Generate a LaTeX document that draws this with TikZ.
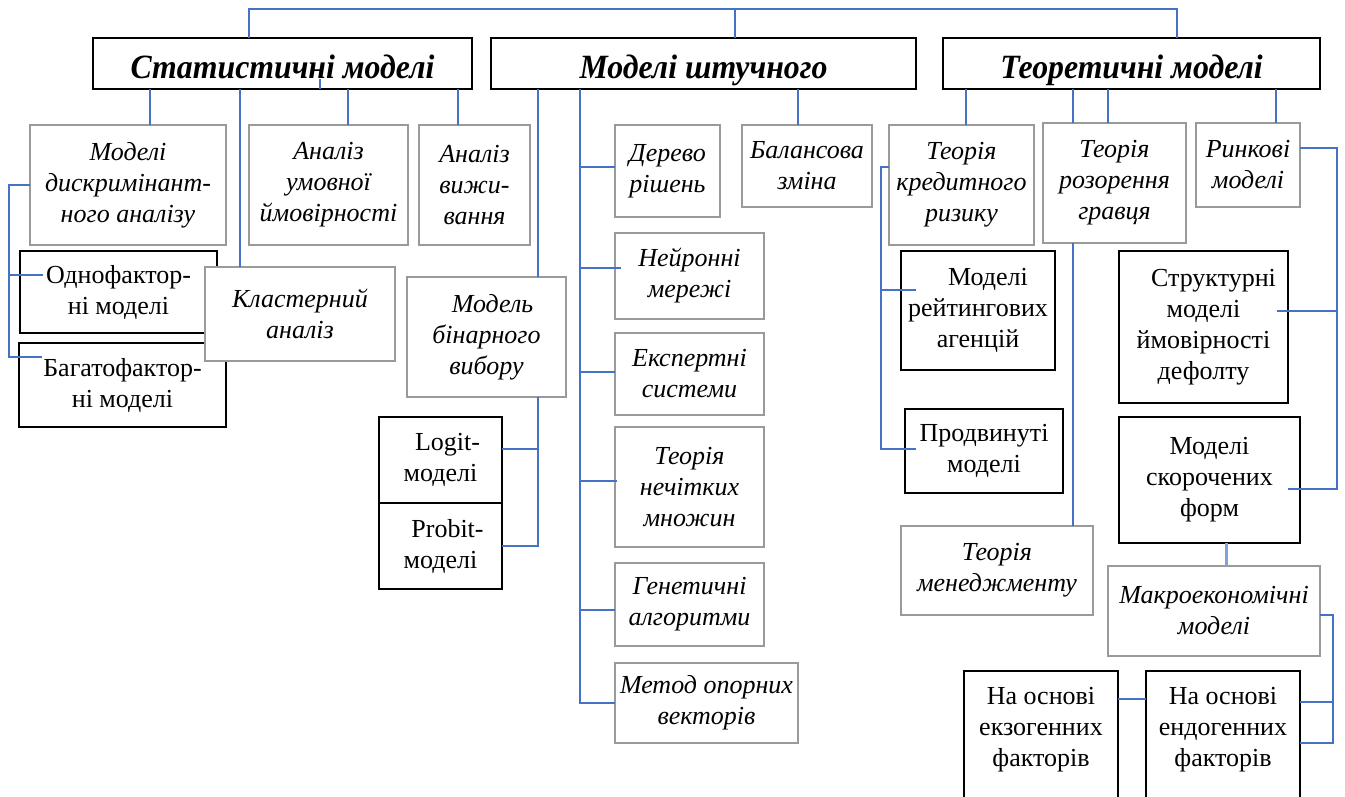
\documentclass[tikz,border=0pt]{standalone}
\usepackage{fontspec}
\usepackage{graphicx}
\setmainfont{Liberation Serif}
\definecolor{conblue}{HTML}{4472C4}
\definecolor{lightblue}{HTML}{7FA3D6}
\definecolor{boxgray}{HTML}{9A9A9A}
\newcommand{\bodyfont}{\fontsize{26}{31}\selectfont}
\newcommand{\hdfont}{\fontsize{34}{36}\selectfont\bfseries\itshape}
\begin{document}
\begin{tikzpicture}[x=1pt,y=-1pt,
  base/.style={rectangle,inner sep=0pt,outer sep=0pt,fill=white,align=center,font=\bodyfont},
  gbox/.style={base,draw=boxgray,line width=1.6pt,font=\bodyfont\itshape},
  bbox/.style={base,draw=black,line width=1.6pt},
  hbox/.style={base,draw=black,line width=1.8pt,minimum height=51pt},
  conn/.style={draw=conblue,line width=2.2pt},
  hdtext/.style={anchor=base,inner sep=0pt,font=\hdfont}]
\useasboundingbox (0,0) rectangle (1345,796);
\fill[white] (0,0) rectangle (1345,796);

% headers (text clipped by box)
\node[hbox,minimum width=379pt,path picture={\node[hdtext] at ([yshift=-15pt]path picture bounding box.center) {\scalebox{0.935}[1]{Статистичні моделі}};}] (hstat) at (282.5,63.5) {};
\node[hbox,minimum width=425pt,path picture={\node[hdtext] at ([yshift=-15pt]path picture bounding box.center) {\scalebox{0.935}[1]{Моделі штучного}};}] (hai) at (703.5,63.5) {};
\node[hbox,minimum width=377pt,path picture={\node[hdtext] at ([yshift=-15pt]path picture bounding box.center) {\scalebox{0.935}[1]{Теоретичні моделі}};}] (hth) at (1131.5,63.5) {};

% statistical models
\node[gbox,minimum width=196pt,minimum height=120pt] (disc) at (128,185) {Моделі\\дискримінант-\\ного аналізу};
\node[gbox,minimum width=159pt,minimum height=120pt] (cond) at (328.5,185) {Аналіз\\умовної\\ймовірності};
\node[gbox,minimum width=111pt,minimum height=120pt] (surv) at (474.5,185) {Аналіз\\вижи-\\вання};
\node[bbox,minimum width=197pt,minimum height=82pt] (one) at (118.5,292) {Однофактор-\\ні моделі};
\node[bbox,minimum width=207pt,minimum height=84pt] (multi) at (122.5,385) {Багатофактор-\\ні моделі};
\node[gbox,minimum width=190pt,minimum height=94pt] (clus) at (300,314) {Кластерний\\аналіз};

% artificial intelligence models
\node[gbox,minimum width=159pt,minimum height=120pt] (bin) at (486.5,337) {\hspace*{12pt}Модель\\бінарного\\вибору};
\node[bbox,minimum width=123pt,minimum height=86pt] (logit) at (440.5,460) {\hspace*{14pt}Logit-\\моделі};
\node[bbox,minimum width=123pt,minimum height=86pt] (probit) at (440.5,546) {\hspace*{14pt}Probit-\\моделі};
\node[gbox,minimum width=105pt,minimum height=92pt] (tree) at (667.5,171) {Дерево\\рішень};
\node[gbox,minimum width=130pt,minimum height=82pt] (bal) at (807,166) {Балансова\\зміна};
\node[gbox,minimum width=149pt,minimum height=86pt] (neur) at (689.5,276) {Нейронні\\мережі};
\node[gbox,minimum width=149pt,minimum height=82pt] (exp) at (689.5,374) {Експертні\\системи};
\node[gbox,minimum width=149pt,minimum height=120pt] (fuzzy) at (689.5,487) {Теорія\\нечітких\\множин};
\node[gbox,minimum width=149pt,minimum height=83pt] (gen) at (689.5,604.5) {Генетичні\\алгоритми};
\node[gbox,minimum width=183pt,minimum height=80pt] (svm) at (706.5,703) {Метод опорних\\векторів};

% theoretical models
\node[gbox,minimum width=145pt,minimum height=120pt] (cred) at (961.5,185) {Теорія\\кредитного\\ризику};
\node[gbox,minimum width=143pt,minimum height=120pt] (ruin) at (1114.5,183) {Теорія\\розорення\\гравця};
\node[gbox,minimum width=104pt,minimum height=84pt] (mkt) at (1248,165) {Ринкові\\моделі};
\node[bbox,minimum width=154pt,minimum height=119pt] (rate) at (978,310.5) {\hspace*{20pt}Моделі\\рейтингових\\агенцій};
\node[bbox,minimum width=169pt,minimum height=152pt] (struct) at (1203.5,327) {\hspace*{20pt}Структурні\\моделі\\ймовірності\\дефолту};
\node[bbox,minimum width=158pt,minimum height=84pt] (adv) at (984,451) {Продвинуті\\моделі};
\node[bbox,minimum width=181pt,minimum height=126pt] (red) at (1209.5,480) {Моделі\\скорочених\\форм};
\node[gbox,minimum width=192pt,minimum height=89pt] (mgmt) at (997,570.5) {Теорія\\менеджменту};
\node[gbox,minimum width=212pt,minimum height=90pt] (macro) at (1214,611) {Макроекономічні\\моделі};
\node[bbox,minimum width=154pt,minimum height=150pt,anchor=north] (exo) at (1041,671) {};
\node[base,fill=none] (exot) at (1041,730) {На основі\\екзогенних\\факторів};
\node[bbox,minimum width=154pt,minimum height=150pt,anchor=north] (endo) at (1223,671) {};
\node[base,fill=none] (endot) at (1223,730) {На основі\\ендогенних\\факторів};

% top connectors
\coordinate (top) at (735,9);
\draw[conn] (249,0 |- hstat.north) |- (top) -| (1177,0 |- hth.north);
\draw[conn] (top) -- (735,0 |- hai.north);

% statistical connectors
\coordinate (tick) at (320,79);
\draw[conn] (150,0 |- hstat.south) -- (150,0 |- disc.north);
\draw[conn] (240,0 |- hstat.south) -- (240,0 |- clus.north);
\draw[conn] (tick) -- (320,0 |- hstat.south);
\draw[conn] (348,0 |- hstat.south) -- (348,0 |- cond.north);
\draw[conn] (458,0 |- hstat.south) -- (458,0 |- surv.north);
\coordinate (onein) at (43,275);
\coordinate (multiin) at (42,357);
\draw[conn] (disc.west) -| (9,0 |- multiin) -- (multiin);
\draw[conn] (9,0 |- onein) -- (onein);

% AI connectors
\draw[conn] (538,0 |- hai.south) -- (538,0 |- bin.north);
\draw[conn] (538,0 |- bin.south) |- (probit.east);
\draw[conn] (logit.east |- 0,449) -- (538,449);
\draw[conn] (580,0 |- hai.south) |- (svm.west);
\draw[conn] (580,167) -- (tree.west |- 0,167);
\coordinate (neurin) at (621,268);
\draw[conn] (580,0 |- neurin) -- (neurin);
\draw[conn] (580,372) -- (exp.west |- 0,372);
\coordinate (fuzzin) at (617,481);
\draw[conn] (580,0 |- fuzzin) -- (fuzzin);
\draw[conn] (580,610) -- (gen.west |- 0,610);
\draw[conn] (798,0 |- hai.south) -- (798,0 |- bal.north);

% theoretical connectors
\draw[conn] (966,0 |- hth.south) -- (966,0 |- cred.north);
\draw[conn] (1073,0 |- hth.south) -- (1073,0 |- ruin.north);
\draw[conn] (1073,0 |- ruin.south) -- (1073,0 |- mgmt.north);
\draw[conn] (1108,0 |- hth.south) -- (1108,0 |- ruin.north);
\draw[conn] (1276,0 |- hth.south) -- (1276,0 |- mkt.north);
\coordinate (ratein) at (916,290);
\coordinate (advin) at (916,449);
\draw[conn] (cred.west |- 0,167) -| (881,0 |- advin) -- (advin);
\draw[conn] (881,0 |- ratein) -- (ratein);
\coordinate (structin) at (1277,311);
\coordinate (redin) at (1288,489);
\draw[conn] (mkt.east |- 0,148) -| (1337,0 |- redin) -- (redin);
\draw[conn] (1337,0 |- structin) -- (structin);
\draw[draw=lightblue,line width=3pt] (1226,0 |- red.south) -- (1226,0 |- macro.north);
\draw[conn] (macro.east |- 0,615) -| (1333,743) -- (endo.east |- 0,743);
\draw[conn] (1333,702) -- (endo.east |- 0,702);
\draw[conn] (exo.east |- 0,699) -- (endo.west |- 0,699);
\end{tikzpicture}
\end{document}
